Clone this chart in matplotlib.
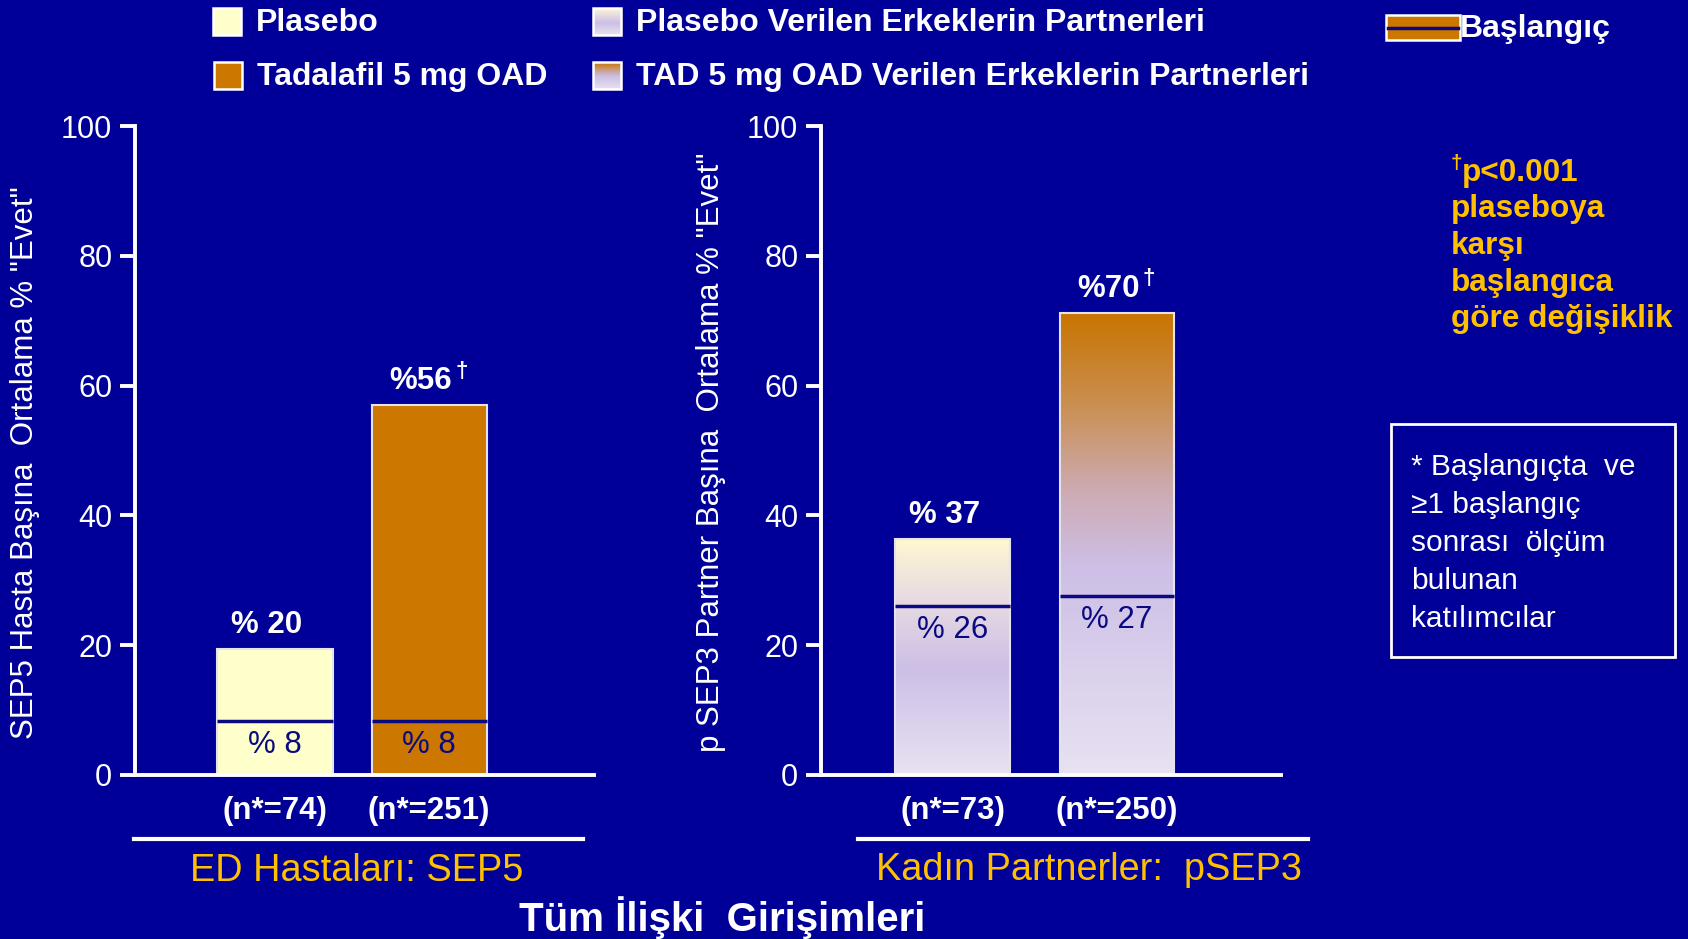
import matplotlib.pyplot as plt
import numpy as np
from matplotlib.colors import LinearSegmentedColormap
from matplotlib.patches import Rectangle

# ---- data ----
sep5_n = ['(n*=74)', '(n*=251)']
sep5_end = [19.4, 57.0]
sep5_base = [8.3, 8.3]
sep5_end_txt = ['% 20', '%56']
sep5_base_txt = ['% 8', '% 8']
sep5_sig = [False, True]

psep3_n = ['(n*=73)', '(n*=250)']
psep3_end = [36.4, 71.2]
psep3_base = [26.0, 27.6]
psep3_end_txt = ['% 37', '%70']
psep3_base_txt = ['% 26', '% 27']
psep3_sig = [False, True]

yticks = [0, 20, 40, 60, 80, 100]
legend_names = ['Plasebo', 'Tadalafil 5 mg OAD',
                'Plasebo Verilen Erkeklerin Partnerleri',
                'TAD 5 mg OAD Verilen Erkeklerin Partnerleri']

# ---- style ----
plt.rcParams['font.family'] = ['Liberation Sans', 'DejaVu Sans']
navy = '#000099'
line_navy = '#0A0A80'
gold = '#FFC000'
c_plac = '#FFFFCC'
c_tad = '#CC7700'
edge = '#E4E4F0'
cm_plac_p = LinearSegmentedColormap.from_list('pp', [(0, '#E8E2F2'), (0.45, '#CDBFE6'),
                                                     (0.75, '#E8DCE2'), (1, '#FFF8D0')])
cm_tad_p = LinearSegmentedColormap.from_list('tp', [(0, '#E8E2F2'), (0.45, '#CDBFE6'),
                                                    (0.62, '#CDAAB0'), (0.8, '#CA8F52'),
                                                    (1, '#C87400')])
grad = np.linspace(0, 1, 256).reshape(-1, 1)
PX = 0.72  # points per pixel at dpi 100

fig = plt.figure(figsize=(16.88, 9.39), dpi=100, facecolor=navy)

# overlay in pixel coordinates for the slide decorations
ov = fig.add_axes([0, 0, 1, 1], zorder=0)
ov.set_xlim(0, 1688)
ov.set_ylim(939, 0)
ov.axis('off')


def gradient_bar(ax, bar, cmap):
    x0, y0 = bar.get_xy()
    ax.imshow(grad, extent=(x0, x0 + bar.get_width(), y0, y0 + bar.get_height()),
              origin='lower', aspect='auto', cmap=cmap, zorder=1.5)


def panel(rect, xlim, width, n_lbl, end, base, end_txt, base_txt, sig, colors, ylabel, lab_y):
    ax = fig.add_axes(rect, zorder=2)
    ax.set_facecolor('none')
    x = np.arange(len(end))
    bars = ax.bar(x, end, width, color=[c if isinstance(c, str) else 'none' for c in colors],
                  edgecolor=edge, linewidth=1.5, zorder=2)
    for b, c in zip(bars, colors):
        if not isinstance(c, str):
            gradient_bar(ax, b, c)
    ax.hlines(base, x - width / 2, x + width / 2, color=line_navy, lw=2.5, zorder=3)
    for xi, e, bv, et, bt, s in zip(x, end, base, end_txt, base_txt, sig):
        ax.annotate(et, (xi, e), xytext=(-8 * PX, 24 * PX), textcoords='offset points',
                    ha='center', va='center', color='white', fontsize=22.5, fontweight='bold')
        if s:
            ax.annotate('†', (xi, e), xytext=(26 * PX, 34 * PX), textcoords='offset points',
                        ha='left', va='center', color='white', fontsize=16, fontweight='bold')
        ax.annotate(bt, (xi, bv), xytext=(0, -24 * PX), textcoords='offset points',
                    ha='center', va='center', color=line_navy, fontsize=22.5)
    ax.set_xlim(*xlim)
    ax.set_ylim(0, 100)
    ax.set_yticks(yticks)
    ax.set_xticks(x)
    ax.set_xticklabels(n_lbl, fontweight='bold')
    for s in ['top', 'right']:
        ax.spines[s].set_visible(False)
    for s in ['left', 'bottom']:
        ax.spines[s].set_color('white')
        ax.spines[s].set_linewidth(2.8)
    ax.tick_params(axis='y', colors='white', labelsize=22, width=2.8, length=10.8, pad=5.5)
    ax.tick_params(axis='x', colors='white', labelsize=22.5, length=0, pad=15)
    ax.set_ylabel(ylabel, color='white', fontsize=22.5, va='center')
    ax.yaxis.set_label_coords(-0.24, lab_y)
    return ax


axL = panel([135 / 1688, 164 / 939, 459 / 1688, 649 / 939], (-0.909, 2.071), 0.747,
            sep5_n, sep5_end, sep5_base, sep5_end_txt, sep5_base_txt, sep5_sig,
            [c_plac, c_tad], 'SEP5 Hasta Başına  Ortalama % "Evet"', 0.482)
axR = panel([821 / 1688, 164 / 939, 460 / 1688, 649 / 939], (-0.799, 1.997), 0.696,
            psep3_n, psep3_end, psep3_base, psep3_end_txt, psep3_base_txt, psep3_sig,
            [cm_plac_p, cm_tad_p], 'p SEP3 Partner Başına  Ortalama % "Evet"', 0.497)

# ---- legend ----
leg_boxes = [(213, 8), (214, 62), (593, 8), (593, 62)]
leg_fill = [c_plac, c_tad, cm_plac_p, cm_tad_p]
for (lx, ly), f, name in zip(leg_boxes, leg_fill, legend_names):
    if isinstance(f, str):
        ov.add_patch(Rectangle((lx, ly), 28, 27, facecolor=f, edgecolor='white', lw=1.8))
    else:
        ov.imshow(grad, extent=(lx, lx + 28, ly + 27, ly), origin='lower', aspect='auto', cmap=f)
        ov.add_patch(Rectangle((lx, ly), 28, 27, facecolor='none', edgecolor='white', lw=1.8))
    ov.text(lx + 43, ly + 15, name, color='white', fontsize=23, fontweight='bold',
            ha='left', va='center')

ov.add_patch(Rectangle((1386, 15), 74, 25, facecolor=c_tad, edgecolor='white', lw=1.8))
ov.plot([1388, 1458], [27.5, 27.5], color=line_navy, lw=2.5)
ov.text(1460, 29, 'Başlangıç', color='white', fontsize=23, fontweight='bold',
        ha='left', va='center')

# ---- group captions ----
ov.plot([134, 583], [839, 839], color='white', lw=3)
ov.plot([858, 1308], [839, 839], color='white', lw=3)
ov.text(357, 871, 'ED Hastaları: SEP5', color=gold, fontsize=27.3, ha='center', va='center')
ov.text(1089, 870, 'Kadın Partnerler:  pSEP3', color=gold, fontsize=27.3, ha='center', va='center')
ov.text(722, 918, 'Tüm İlişki  Girişimleri', color='white', fontsize=29, fontweight='bold',
        ha='center', va='center')

# ---- p-value note ----
p_lines = ['p<0.001', 'plaseboya', 'karşı', 'başlangıca', 'göre değişiklik']
ov.text(1451, 164, '†', color=gold, fontsize=15, fontweight='bold', ha='left', va='center')
for i, t in enumerate(p_lines):
    ov.text(1451 + (11 if i == 0 else 0), 173 + i * 36.5, t, color=gold, fontsize=22.7,
            fontweight='bold', ha='left', va='center')

# ---- footnote box ----
ov.add_patch(Rectangle((1391, 424), 284, 233, facecolor='none', edgecolor='white', lw=2))
box_lines = ['* Başlangıçta  ve', '≥1 başlangıç', 'sonrası  ölçüm', 'bulunan', 'katılımcılar']
for i, t in enumerate(box_lines):
    ov.text(1411, 467 + i * 38, t, color='white', fontsize=21.5, ha='left', va='center')

ov.set_xlim(0, 1688)
ov.set_ylim(939, 0)

fig.savefig('out.png', dpi=100, facecolor=navy)
